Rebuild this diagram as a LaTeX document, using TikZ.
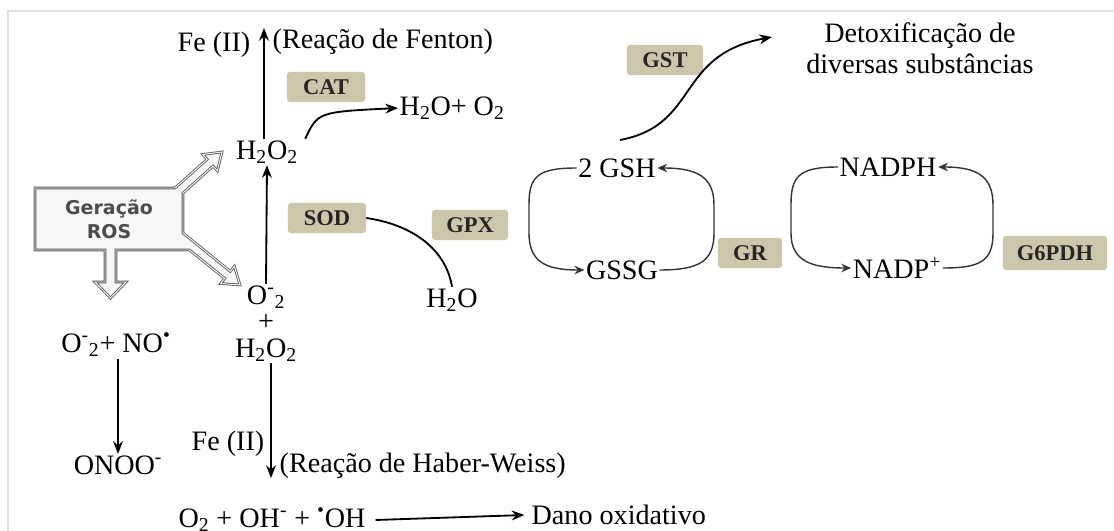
\documentclass[tikz,border=0pt]{standalone}
\usepackage{fontspec}
\setmainfont{Liberation Serif}
\newfontfamily\rosfont{DejaVu Sans}
\usetikzlibrary{positioning,arrows.meta}
\definecolor{enzfill}{RGB}{204,199,170}
\tikzset{
  enzyme/.style={fill=enzfill, rounded corners=2pt, inner sep=0pt, minimum height=0.75cm,
    font=\fontsize{16}{18}\selectfont\bfseries, text=black!85},
  species/.style={font=\fontsize{20}{22}\selectfont, inner sep=1pt},
  react/.style={-{Stealth[length=9pt,width=7pt]}, line width=1.3pt},
  loopline/.style={-{Stealth[length=7pt,width=6pt]}, line width=1pt, black!80},
}
\begin{document}
\begin{tikzpicture}[x=0.025cm, y=-0.025cm]
\useasboundingbox (0,0) rectangle (1114,531);
% frame
\draw [gray!25, line width=1.5pt] (8,531) -- (8,11) -- (1114,11);

% Geracao ROS
\draw [black!65, double=gray!8, double distance=0.7pt, line width=0.6pt, fill=gray!6, line join=miter]
  (35,188) -- (175,188) -- (207.1,159.3) -- (202.8,154.5) -- (222,152)
  -- (217.4,170.9) -- (213.1,166.1) -- (183,193) -- (183,233)
  -- (230.3,271.4) -- (234.4,266.3) -- (240,285) -- (220.6,283.5)
  -- (224.7,278.4) -- (189.5,250) -- (116,250) -- (116,282) -- (126,282)
  -- (110.5,298) -- (95,282) -- (105,282) -- (105,250) -- (35,250) -- cycle;
\node (ros) [font=\rosfont\bfseries\fontsize{13.5}{17}\selectfont, text=black!70, align=center] at (109,219) {Geração\\ROS};

% Fenton
\node (h2oa) [species] at (267,152) {H\textsubscript{2}O\textsubscript{2}};
\coordinate (fe) at (264,28);
\draw [react] (h2oa.north -| fe) -- (fe);
\node (fea) [species] at (214,45) {Fe (II)};
\node (fenton) [species, anchor=west] at (271,42) {(Reação de Fenton)};

% Catalase
\node (cat) [enzyme, minimum width=1.95cm] at (326,87) {CAT};
\node (catp) [species, anchor=west] at (398,108) {H\textsubscript{2}O+ O\textsubscript{2}};
\draw [react] ([xshift=4pt]h2oa.north east) .. controls (318,112) .. (catp.west);

% Superoxide
\node (o2m) [species] at (266,297) {O\textsuperscript{-}\textsubscript{2}};
\node (plus) [species] at (266,323) {+};
\node (h2ob) [species] at (266,350) {H\textsubscript{2}O\textsubscript{2}};
\draw [react] (o2m.north) -- (h2oa.south);
\node (sod) [enzyme, minimum width=1.95cm] at (327,218) {SOD};
\node (h2o) [species] at (452,300) {H\textsubscript{2}O};
\draw [line width=1.3pt] (sod.east) .. controls (420,226) and (447,255) .. (h2o.north);
\node (gpx) [enzyme, minimum width=1.9cm] at (470,225) {GPX};

% Peroxynitrite
\node (o2no) [species] at (116,345) {O\textsuperscript{-}\textsubscript{2}+ NO\textsuperscript{\textbullet}};
\node (onoo) [species] at (118,465) {ONOO\textsuperscript{-}};
\draw [react] (o2no.south -| onoo) -- (onoo.north);

% Haber-Weiss
\coordinate (hw) at (271,478);
\draw [react] (h2ob.south -| hw) -- (hw);
\node (feb) [species] at (228,444) {Fe (II)};
\node (haber) [species, anchor=west] at (278,466) {(Reação de Haber-Weiss)};
\node (prod) [species] at (272,520) {O\textsubscript{2} + OH\textsuperscript{-} + \textsuperscript{\textbullet}OH};
\node (dano) [species, anchor=west] at (530,515) {Dano oxidativo};
\draw [react] ([xshift=6pt]prod.east) -- ([xshift=-4pt]dano.west);

% Glutathione cycle
\node (gsh) [species] at (617,168) {2 GSH};
\node (gssg) [species] at (622,270) {GSSG};
\draw [loopline] (gsh.west) .. controls +(-40,0) and +(0,-28) .. (529,205) -- (529,233)
  .. controls +(0,28) and +(-40,0) .. (gssg.west);
\draw [loopline] (gssg.east) .. controls +(40,0) and +(0,28) .. (714,233) -- (714,205)
  .. controls +(0,-28) and +(40,0) .. (gsh.east);
\node (gr) [enzyme, minimum width=1.6cm] at (750,253) {GR};
\node (gst) [enzyme, minimum width=1.9cm] at (665,60) {GST};
\coordinate (gsta) at (620,140);
\coordinate (gstb) at (772,37);
\draw [react] (gsta) .. controls (700,125) and (675,55) .. (gstb);
\node (detox) [species, align=center] at (920,48) {Detoxificação de\\diversas substâncias};

% NADPH cycle
\node (nadph) [species] at (888,167) {NADPH};
\node (nadp) [species] at (897,268) {NADP\textsuperscript{+}};
\draw [loopline] (nadph.west) .. controls +(-40,0) and +(0,-28) .. (791,205) -- (791,233)
  .. controls +(0,28) and +(-40,0) .. (nadp.west);
\draw [loopline] (nadp.east) .. controls +(38,0) and +(0,28) .. (993,233) -- (993,205)
  .. controls +(0,-28) and +(40,0) .. (nadph.east);
\node (g6pdh) [enzyme, minimum width=2.6cm, minimum height=0.85cm] at (1055,253) {G6PDH};

\end{tikzpicture}
\end{document}
